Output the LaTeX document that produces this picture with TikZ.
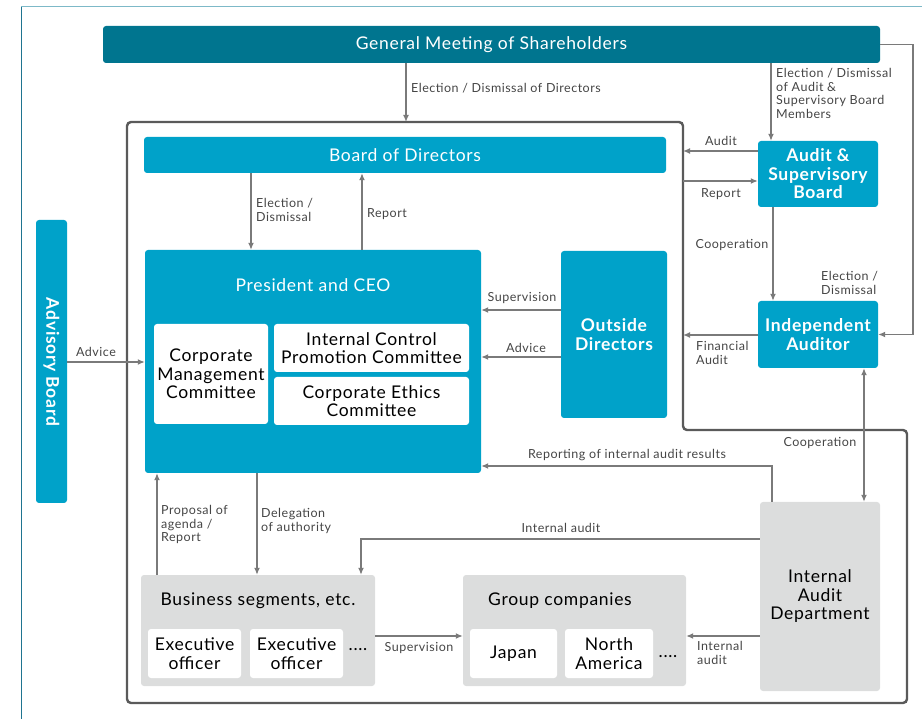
\documentclass[tikz,border=0pt]{standalone}
\usepackage{fontspec}
\setmainfont{Lato}[LetterSpace=4]
\usetikzlibrary{arrows.meta}
\definecolor{cTeal}{HTML}{00758F}
\definecolor{cBlue}{HTML}{00A2C9}
\definecolor{cGray}{HTML}{DCDDDD}
\definecolor{cLine}{HTML}{7A7A7A}
\definecolor{cFrame}{HTML}{5A5A5A}
\definecolor{cLbl}{HTML}{454545}
\definecolor{cOuterA}{HTML}{7DB9C8}
\definecolor{cOuterB}{HTML}{1F7490}
\newcommand{\ttlfont}{\fontsize{17.5}{18.5}\selectfont}
\newcommand{\lblfont}{\fontsize{12.5}{13.7}\selectfont}
\begin{document}
\begin{tikzpicture}[x=1pt,y=-1pt,
  box/.style={rectangle, rounded corners=3pt, inner sep=0pt, align=center, font=\ttlfont},
  bluebox/.style={box, fill=cBlue, text=white},
  wbox/.style={box, fill=white, text=black},
  gbox/.style={box, fill=cGray, text=black},
  lbl/.style={inner sep=0pt, font=\lblfont, text=cLbl, align=left},
  arr/.style={draw=cLine, line width=1.3pt, -{Latex[length=7pt,width=6pt]}},
  darr/.style={draw=cLine, line width=1.3pt, {Latex[length=7pt,width=6pt]}-{Latex[length=7pt,width=6pt]}},
  framestyle/.style={draw=cFrame, line width=2.4pt, rounded corners=4pt}
]
\useasboundingbox (0,0) rectangle (922,719);
% outer thin lines
\draw[cOuterA, line width=1pt] (21,7) -- (922,7);
\draw[cOuterB, line width=1pt] (21,7) -- (21,719);
% big frame
\draw[framestyle] (127,122) -- (683,122) -- (683,430) -- (907,430) -- (907,703) -- (127,703) -- cycle;

% helper coordinates
\coordinate (fX) at (683,0);
\coordinate (ft) at (406,122);
\coordinate (eX) at (913,0);
\foreach \n/\v in {c251/251,c362/362,c771/771,c773/773,c864/864,c772/772,c361/361,c157/157,c257/257}{\coordinate (\n) at (\v,0);}
\foreach \n/\v in {y151/151,y181/181,y310/310,y357/357,y335/335,y466/466,y539/539,y636/636,y362/362}{\coordinate (\n) at (0,\v);}

% nodes
\node[box, fill=cTeal, text=white, minimum width=777pt, minimum height=37pt] (gms) at (491.5,44.5) {General Meeting of Shareholders};
\node[bluebox, minimum width=522pt, minimum height=36pt] (bod) at (405,155) {Board of Directors};
\node[bluebox, minimum width=336pt, minimum height=223pt] (pres) at (313,361.5) {};
\node[inner sep=0pt, font=\ttlfont, text=white] (prest) at (313,285) {President and CEO};
\node[wbox, minimum width=114pt, minimum height=100pt] (cmc) at (211,374) {Corporate\\Management\\Committee};
\node[wbox, minimum width=195pt, minimum height=48pt] (icpc) at (371.5,348) {Internal Control\\Promotion Committee};
\node[wbox, minimum width=195pt, minimum height=48pt] (cec) at (371.5,401) {Corporate Ethics\\Committee};
\node[bluebox, font=\ttlfont\bfseries, minimum width=106pt, minimum height=167pt] (od) at (614,334.5) {Outside\\Directors};
\node[bluebox, font=\ttlfont\bfseries, minimum width=120pt, minimum height=66pt] (asb) at (818,174) {Audit \&\\Supervisory\\Board};
\node[bluebox, font=\ttlfont\bfseries, minimum width=120pt, minimum height=67pt] (ia) at (818,334.5) {Independent\\Auditor};
\node[gbox, minimum width=120pt, minimum height=189pt] (iad) at (820,596.5) {Internal\\Audit\\Department};
\node[bluebox, minimum width=31pt, minimum height=283pt] (ab) at (51.5,361.5) {};
\node[inner sep=0pt, font=\ttlfont\bfseries, text=white, rotate=-90] (abt) at (51.5,362) {Advisory Board};
\node[gbox, minimum width=234pt, minimum height=111pt] (bs) at (258,630.5) {};
\node[inner sep=0pt, font=\ttlfont] (bst) at (258,601) {Business segments, etc.};
\node[wbox, minimum width=93pt, minimum height=49pt] (eo1) at (194.5,653.5) {Executive\\officer};
\node[wbox, minimum width=93pt, minimum height=49pt] (eo2) at (296.5,653.5) {Executive\\officer};
\node[inner sep=0pt, font=\ttlfont] (dots1) at (358,650) {....};
\node[gbox, minimum width=223pt, minimum height=111pt] (gc) at (574.5,630.5) {};
\node[inner sep=0pt, font=\ttlfont] (gct) at (560,601) {Group companies};
\node[wbox, minimum width=87pt, minimum height=49pt] (jp) at (513.5,653.5) {Japan};
\node[wbox, minimum width=88pt, minimum height=49pt] (na) at (609,653.5) {North\\America};
\node[inner sep=0pt, font=\ttlfont] (dots2) at (668,657) {....};

% connectors
\draw[arr] (gms.south -| ft) -- (ft);
\draw[arr] (gms.south -| c771) -- (asb.north -| c771);
\draw[arr] (gms.east) -- (gms.east -| eX) -- (ia.east -| eX) -- (ia.east);
\draw[arr] (bod.south -| c251) -- (pres.north -| c251);
\draw[arr] (pres.north -| c362) -- (bod.south -| c362);
\draw[arr] (asb.west |- y151) -- (fX |- y151);
\draw[arr] (fX |- y181) -- (asb.west |- y181);
\draw[arr] (asb.south -| c773) -- (ia.north -| c773);
\draw[arr] (ia.west |- y335) -- (fX |- y335);
\draw[darr] (ia.south -| c864) -- (iad.north -| c864);
\draw[arr] (od.west |- y310) -- (pres.east |- y310);
\draw[arr] (od.west |- y357) -- (pres.east |- y357);
\draw[arr] (iad.north -| c772) -- (c772 |- y466) -- (pres.east |- y466);
\draw[arr] (iad.west |- y539) -- (c361 |- y539) -- (bs.north -| c361);
\draw[arr] (iad.west |- y636) -- (gc.east |- y636);
\draw[arr] (bs.east |- y636) -- (gc.west |- y636);
\draw[arr] (ab.east |- y362) -- (pres.west |- y362);
\draw[arr] (bs.north -| c157) -- (pres.south -| c157);
\draw[arr] (pres.south -| c257) -- (bs.north -| c257);

% labels
\node[lbl, anchor=west] (l1) at (411,88) {Election / Dismissal of Directors};
\node[lbl, anchor=north west] (l2) at (776,68) {Election / Dismissal\\of Audit \&\\Supervisory Board\\Members};
\node[lbl] (l3) at (721,141) {Audit};
\node[lbl] (l4) at (721,194) {Report};
\node[lbl] (l5) at (732,245) {Cooperation};
\node[lbl, anchor=north west] (l6) at (821,271) {Election /\\Dismissal};
\node[lbl, anchor=north west] (l7) at (696,341) {Financial\\Audit};
\node[lbl] (l8) at (820,443) {Cooperation};
\node[lbl] (l9) at (627,455) {Reporting of internal audit results};
\node[lbl] (l10) at (561,528) {Internal audit};
\node[lbl, anchor=north west] (l11) at (697,641) {Internal\\audit};
\node[lbl] (l12) at (419,648) {Supervision};
\node[lbl, anchor=north west] (l13) at (256,198) {Election /\\Dismissal};
\node[lbl, anchor=west] (l14) at (367,214) {Report};
\node[lbl] (l15) at (522,298) {Supervision};
\node[lbl] (l16) at (526,348) {Advice};
\node[lbl] (l17) at (96,352) {Advice};
\node[lbl, anchor=north west] (l18) at (161,505) {Proposal of\\agenda /\\Report};
\node[lbl, anchor=north west] (l19) at (261,508) {Delegation\\of authority};
\end{tikzpicture}
\end{document}
